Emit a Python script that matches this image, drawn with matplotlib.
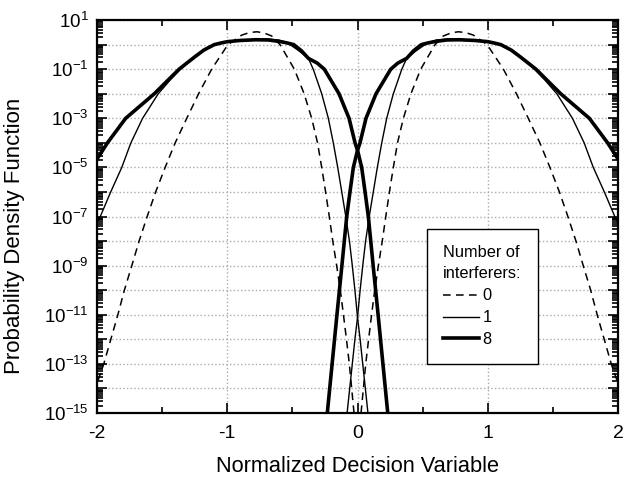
import math
import matplotlib
matplotlib.use("Agg")
import matplotlib.pyplot as plt
from matplotlib.ticker import FixedLocator, LogLocator, FuncFormatter, MultipleLocator

plt.rcParams['font.family'] = ['Liberation Sans', 'DejaVu Sans']
plt.rcParams['mathtext.fontset'] = 'custom'
plt.rcParams['mathtext.rm'] = 'Liberation Sans'
plt.rcParams['mathtext.it'] = 'Liberation Sans'
plt.rcParams['axes.unicode_minus'] = False

# values (pdf vs normalized decision variable)
# 0 interferers (dashed)
x0_right = [0.027, 0.045, 0.063, 0.085, 0.108, 0.132, 0.16, 0.19, 0.217, 0.245, 0.275, 0.307,
            0.352, 0.41, 0.485, 0.595, 0.658, 0.72, 0.774, 0.83, 0.889, 0.995, 1.12, 1.22,
            1.311, 1.40, 1.477, 1.55, 1.615, 1.677, 1.733, 1.79, 1.84, 1.894, 1.948, 2.0]
x0_left = [-0.027, -0.045, -0.063, -0.085, -0.108, -0.132, -0.16, -0.19, -0.217, -0.245, -0.275, -0.307,
           -0.352, -0.41, -0.485, -0.595, -0.658, -0.72, -0.774, -0.83, -0.889, -0.995, -1.12, -1.22,
           -1.311, -1.40, -1.477, -1.55, -1.615, -1.677, -1.733, -1.79, -1.84, -1.894, -1.948, -2.0]
pdf0 = [1e-15, 1e-14, 1e-13, 1e-12, 1e-11, 1e-10, 1e-9, 1e-8, 1e-7, 1e-6, 1e-5, 1e-4,
        1e-3, 1e-2, 1e-1, 1.0, 2.24, 3.02, 3.34, 3.09, 2.45, 1.0, 1e-1, 1e-2,
        1e-3, 1e-4, 1e-5, 1e-6, 1e-7, 1e-8, 1e-9, 1e-10, 1e-11, 1e-12, 1e-13, 1.6e-14]

# 1 interferer (thin)
x1_right = [-0.08, -0.06, -0.04, -0.02, 0.0, 0.02, 0.04, 0.062, 0.09, 0.121, 0.152, 0.186,
            0.224, 0.275, 0.34, 0.377, 0.45, 0.518, 0.56, 0.608, 0.70, 0.80, 0.90, 1.0, 1.05, 1.1,
            1.18, 1.25, 1.35, 1.44, 1.53, 1.65, 1.74, 1.81, 1.895, 1.975, 2.0]
x1_left = [0.08, 0.06, 0.04, 0.02, 0.0, -0.02, -0.04, -0.062, -0.09, -0.121, -0.152, -0.186,
           -0.224, -0.275, -0.34, -0.377, -0.45, -0.518, -0.56, -0.608, -0.70, -0.80, -0.90, -1.0, -1.05, -1.1,
           -1.18, -1.25, -1.35, -1.44, -1.53, -1.65, -1.74, -1.81, -1.895, -1.975, -2.0]
pdf1 = [1e-15, 1e-14, 1e-13, 1e-12, 7.9e-12, 1e-10, 1e-9, 1e-8, 1e-7, 1e-6, 1e-5, 1e-4,
        1e-3, 1e-2, 1e-1, 0.275, 0.56, 1.0, 1.3, 1.55, 1.7, 1.62, 1.48, 1.32, 1.17, 1.0,
        0.6, 0.34, 0.112, 0.0355, 1e-2, 1e-3, 1e-4, 1e-5, 1e-6, 1e-7, 5.6e-8]

# 8 interferers (thick)
x8_right = [-0.232, -0.195, -0.158, -0.12, -0.083, -0.058, -0.032, 0.0, 0.019, 0.065, 0.142,
            0.255, 0.31, 0.377, 0.43, 0.49, 0.54, 0.60, 0.685, 0.78, 0.90, 1.0, 1.05, 1.1,
            1.18, 1.25, 1.31, 1.37, 1.56, 1.78, 1.92, 2.0]
x8_left = [0.232, 0.195, 0.158, 0.12, 0.083, 0.058, 0.032, 0.0, -0.019, -0.065, -0.142,
           -0.255, -0.31, -0.377, -0.43, -0.49, -0.54, -0.60, -0.685, -0.78, -0.90, -1.0, -1.05, -1.1,
           -1.18, -1.25, -1.31, -1.37, -1.56, -1.78, -1.92, -2.0]
pdf8 = [1e-15, 1e-13, 1e-11, 1e-9, 1e-7, 1e-6, 1e-5, 5.0e-5, 1e-4, 1e-3, 1e-2,
        1e-1, 0.178, 0.275, 0.56, 1.0, 1.17, 1.35, 1.55, 1.58, 1.48, 1.32, 1.16, 1.0,
        0.6, 0.316, 0.178, 1e-1, 1e-2, 1e-3, 1e-4, 2.2e-5]

legend_labels = ['0', '1', '8']

fig = plt.figure(figsize=(6.3, 4.78), dpi=100)
ax = fig.add_axes([0.154, 0.136, 0.827, 0.822])

dash = (0, (5, 3.5))
l0, = ax.semilogy(x0_right, pdf0, color='black', lw=1.1, ls=dash)
ax.semilogy(x0_left, pdf0, color='black', lw=1.1, ls=dash)
l1, = ax.semilogy(x1_right, pdf1, color='black', lw=1.0)
ax.semilogy(x1_left, pdf1, color='black', lw=1.0)
l8, = ax.semilogy(x8_right, pdf8, color='black', lw=2.6)
ax.semilogy(x8_left, pdf8, color='black', lw=2.6)

ax.set_xlim(-2, 2)
ax.set_ylim(1e-15, 10)

ax.xaxis.set_major_locator(MultipleLocator(1))
ax.xaxis.set_minor_locator(MultipleLocator(0.5))
ax.yaxis.set_major_locator(FixedLocator([10.0 ** k for k in range(-15, 2)]))
ax.yaxis.set_minor_locator(LogLocator(base=10, subs=range(2, 10), numticks=40))


def ylab(v, pos):
    k = int(round(math.log10(v)))
    if (k - 1) % 2 == 0:
        return r'$\mathregular{10^{%d}}$' % k
    return ''


ax.yaxis.set_major_formatter(FuncFormatter(ylab))
ax.tick_params(which='both', direction='in', top=True, right=True, width=1.2)
ax.tick_params(which='major', length=7)
ax.tick_params(which='minor', length=4)
ax.tick_params(axis='x', which='major', pad=9, labelsize=14)
ax.tick_params(axis='y', which='major', pad=6, labelsize=13.5)

ax.grid(True, which='major', color='#aaaaaa', ls=':', lw=1.0)
for s in ax.spines.values():
    s.set_linewidth(1.6)

ax.set_xlabel('Normalized Decision Variable', fontsize=15.7, labelpad=10)
ax.set_ylabel('Probability Density Function', fontsize=16)
ax.yaxis.set_label_coords(-0.138, 0.45)

leg = ax.legend([l0, l1, l8], legend_labels, title='Number of\ninterferers:',
                loc='upper left', bbox_to_anchor=(0.633, 0.468), borderaxespad=0,
                fontsize=11.8, title_fontsize=11.8, handlelength=2.2, handletextpad=0.2,
                labelspacing=0.42, fancybox=False, framealpha=1, edgecolor='black',
                alignment='left', borderpad=1.0)
leg.get_title().set_linespacing(1.5)
leg.get_frame().set_linewidth(1.0)

fig.savefig('out.png', dpi=100)
